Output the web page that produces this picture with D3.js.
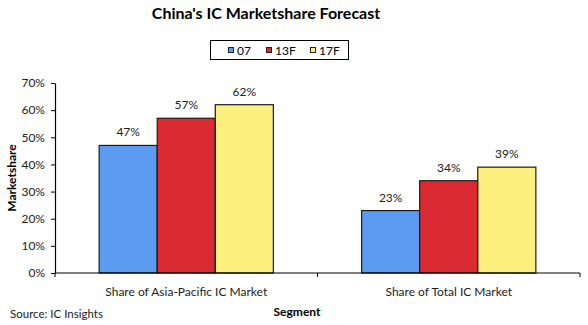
<!DOCTYPE html>
<html><head><meta charset="utf-8">
<script src="https://cdn.jsdelivr.net/npm/d3@7"></script>
<style>body{margin:0;background:#fff;} svg{display:block;} text{font-family:Lato,"Open Sans",sans-serif;}</style>
</head><body><svg id="c" width="588" height="325"></svg>
<script>
const categories = ["Share of Asia-Pacific IC Market", "Share of Total IC Market"];
const seriesNames = ["07", "13F", "17F"];
const s07 = [47, 23];
const s13F = [57, 34];
const s17F = [62, 39];
const yTicks = [0, 10, 20, 30, 40, 50, 60, 70];
const colors = ["#5b9cf2", "#dc2a33", "#fdf07f"];

const series = [s07, s13F, s17F];
const svg = d3.select("#c");
const L = 55, R = 580, T = 83, B = 273;
const x = d3.scaleBand().domain(categories).range([L, R]).paddingInner(0).paddingOuter(0);
const x1 = d3.scaleBand().domain(seriesNames).range([0, x.bandwidth()]).paddingOuter(0.76).paddingInner(0);
const y = d3.scaleLinear().domain([0, 70]).range([B, T]);

svg.append("text").attr("x", 266).attr("y", 19).attr("text-anchor", "middle")
  .attr("font-size", 16).attr("font-weight", "bold").text("China's IC Marketshare Forecast");

// legend
const lg = svg.append("g");
lg.append("rect").attr("x", 210.5).attr("y", 40.5).attr("width", 138).attr("height", 19)
  .attr("fill", "#fff").attr("stroke", "#000").attr("stroke-width", 1);
const lx = [228, 266, 310];
seriesNames.forEach((n, i) => {
  lg.append("rect").attr("x", lx[i] + 0.5).attr("y", 47.5).attr("width", 5).attr("height", 5)
    .attr("fill", colors[i]).attr("stroke", "#222");
  lg.append("text").attr("x", lx[i] + 9).attr("y", 54.5).attr("font-size", 12).text(n);
});

// y axis
const ya = svg.append("g").attr("transform", `translate(${L},0)`)
  .call(d3.axisLeft(y).tickValues(yTicks).tickFormat(d => d + "%").tickSize(4).tickSizeOuter(0));
ya.select(".domain").attr("stroke", "#000").attr("stroke-width", 1.2);
ya.selectAll(".tick line").attr("stroke", "#000");
ya.selectAll(".tick text").attr("font-size", 12).attr("fill", "#222").attr("font-family", "Lato,sans-serif").attr("x", -10);

// bars
series.forEach((vals, si) => {
  svg.append("g").selectAll("rect").data(categories).join("rect")
    .attr("x", d => x(d) + x1(seriesNames[si]))
    .attr("y", (d, i) => y(vals[i]))
    .attr("width", x1.bandwidth())
    .attr("height", (d, i) => B - y(vals[i]))
    .attr("fill", colors[si]).attr("stroke", "#1a1a1a").attr("stroke-width", 1.2);
  svg.append("g").selectAll("text").data(categories).join("text")
    .attr("x", d => x(d) + x1(seriesNames[si]) + x1.bandwidth() / 2)
    .attr("y", (d, i) => y(vals[i]) - 9)
    .attr("text-anchor", "middle").attr("font-size", 12).attr("fill", "#222")
    .text((d, i) => vals[i] + "%");
});

// x axis line and ticks between categories
const xa = svg.append("g");
xa.append("line").attr("x1", L).attr("x2", R).attr("y1", B).attr("y2", B).attr("stroke", "#000").attr("stroke-width", 1.2);
const bounds = [L, x(categories[1]), R];
xa.selectAll("line.t").data(bounds).join("line").attr("class", "t")
  .attr("x1", d => d).attr("x2", d => d).attr("y1", B).attr("y2", B + 4).attr("stroke", "#000");
xa.selectAll("text").data(categories).join("text")
  .attr("x", d => x(d) + x.bandwidth() / 2).attr("y", 296)
  .attr("text-anchor", "middle").attr("font-size", 12).attr("fill", "#222").text(d => d);

svg.append("text").attr("x", 297).attr("y", 316).attr("text-anchor", "middle")
  .attr("font-size", 12).attr("font-weight", "bold").text("Segment");
svg.append("text").attr("transform", "translate(16,178) rotate(-90)").attr("text-anchor", "middle")
  .attr("font-size", 12).attr("font-weight", "bold").text("Marketshare");
svg.append("text").attr("x", 10).attr("y", 318).attr("font-size", 11.5).attr("fill", "#222").text("Source: IC Insights");
</script></body></html>
